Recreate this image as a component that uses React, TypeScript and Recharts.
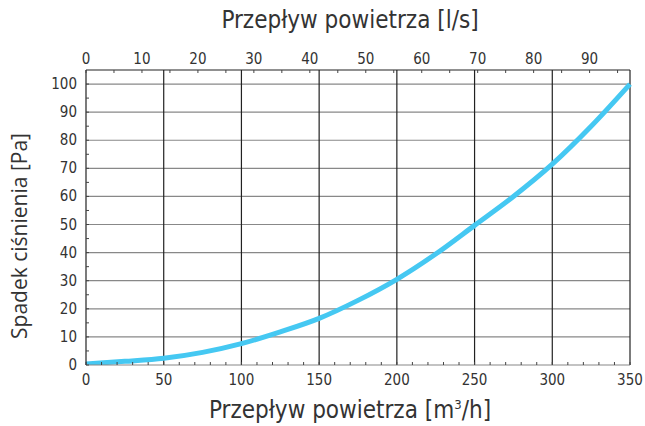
import { LineChart, Line, XAxis, YAxis, CartesianGrid } from 'recharts'

// air flow [m3/h] and pressure drop [Pa]
const flowM3h = [0, 25, 50, 75, 100, 125, 150, 175, 200, 225, 250, 275, 300, 325, 350]
const pressurePa = [0.4, 1.3, 2.4, 4.5, 7.6, 11.8, 16.6, 23, 30.5, 39.5, 49.7, 60, 71.5, 85, 100]

const bottomTicks = [0, 10, 20, 30, 40, 50, 60, 70, 80, 90, 100, 110, 120, 130, 140, 150, 160, 170, 180, 190, 200, 210, 220, 230, 240, 250, 260, 270, 280, 290, 300, 310, 320, 330, 340, 350]
const bottomLabels = [0, 50, 100, 150, 200, 250, 300, 350]
const topTicks = [0, 5, 10, 15, 20, 25, 30, 35, 40, 45, 50, 55, 60, 65, 70, 75, 80, 85, 90, 95]
const topLabels = [0, 10, 20, 30, 40, 50, 60, 70, 80, 90]
const leftTicks = [0, 5, 10, 15, 20, 25, 30, 35, 40, 45, 50, 55, 60, 65, 70, 75, 80, 85, 90, 95, 100]
const leftLabels = [0, 10, 20, 30, 40, 50, 60, 70, 80, 90, 100]
const gridFlow = [50, 100, 150, 200, 250, 300, 350]
const gridPressure = [10, 20, 30, 40, 50, 60, 70, 80, 90, 100]

const M3H_PER_LS = 3.6

const chartData = flowM3h.map((q, i) => ({ q, ls: q / M3H_PER_LS, pa: pressurePa[i] }))

const TICK_FONT = "'DejaVu Sans Condensed', 'Liberation Sans Narrow', Roboto, sans-serif"
const TEXT_COLOR = '#333'

function BottomTick(props: any) {
  const { x, y, payload } = props
  const v = payload.value
  return (
    <g>
      <line x1={x} y1={y} x2={x} y2={y - 3} stroke="#444" strokeWidth={1} />
      {bottomLabels.includes(v) && (
        <text x={x} y={y + 20} textAnchor="middle" fontSize={15} fill={TEXT_COLOR} fontFamily={TICK_FONT}>
          {v}
        </text>
      )}
    </g>
  )
}

function TopTick(props: any) {
  const { x, y, payload } = props
  const v = payload.value
  return (
    <g>
      <line x1={x} y1={y} x2={x} y2={y + 3} stroke="#444" strokeWidth={1} />
      {topLabels.includes(v) && (
        <text x={x} y={y - 6} textAnchor="middle" fontSize={15} fill={TEXT_COLOR} fontFamily={TICK_FONT}>
          {v}
        </text>
      )}
    </g>
  )
}

function LeftTick(props: any) {
  const { x, y, payload } = props
  const v = payload.value
  return (
    <g>
      <line x1={x} y1={y} x2={x + 3} y2={y} stroke="#444" strokeWidth={1} />
      {leftLabels.includes(v) && (
        <text x={x - 9} y={y + 5} textAnchor="end" fontSize={15} fill={TEXT_COLOR} fontFamily={TICK_FONT}>
          {v}
        </text>
      )}
    </g>
  )
}

export default function App() {
  return (
    <div style={{ position: 'absolute', left: 0, top: 0, width: 645, height: 426, background: '#fff' }}>
      <LineChart
        width={645}
        height={426}
        data={chartData}
        margin={{ top: 40, right: 15, bottom: 31, left: 46 }}
      >
        <CartesianGrid
          xAxisId="bottom"
          horizontal={true}
          vertical={false}
          horizontalValues={gridPressure}
          stroke="#888"
          strokeWidth={1.2}
        />
        <CartesianGrid
          xAxisId="bottom"
          horizontal={false}
          vertical={true}
          verticalValues={gridFlow}
          stroke="#222"
          strokeWidth={1.2}
        />
        <XAxis
          xAxisId="bottom"
          dataKey="q"
          type="number"
          orientation="bottom"
          domain={[0, 350]}
          ticks={bottomTicks}
          interval={0}
          height={30}
          tickSize={0}
          tickMargin={0}
          tickLine={false}
          axisLine={{ stroke: '#888', strokeWidth: 1.2 }}
          tick={<BottomTick />}
        />
        <XAxis
          xAxisId="top"
          dataKey="ls"
          type="number"
          orientation="top"
          domain={[0, 350 / M3H_PER_LS]}
          ticks={topTicks}
          interval={0}
          height={30}
          tickSize={0}
          tickMargin={0}
          tickLine={false}
          axisLine={{ stroke: '#222', strokeWidth: 1.2 }}
          tick={<TopTick />}
          allowDataOverflow
        />
        <YAxis
          type="number"
          domain={[0, 105]}
          ticks={leftTicks}
          interval={0}
          width={40}
          tickSize={0}
          tickMargin={0}
          tickLine={false}
          axisLine={{ stroke: '#222', strokeWidth: 1.2 }}
          tick={<LeftTick />}
          allowDataOverflow
        />
        <Line
          xAxisId="top"
          type="monotone"
          dataKey="pa"
          stroke="none"
          dot={false}
          activeDot={false}
          isAnimationActive={false}
        />
        <Line
          xAxisId="bottom"
          type="monotone"
          dataKey="pa"
          stroke="#45c8f2"
          strokeWidth={5}
          dot={false}
          activeDot={false}
          isAnimationActive={false}
        />
      </LineChart>
      <div
        style={{
          position: 'absolute',
          left: 0,
          top: 6,
          width: 700,
          textAlign: 'center',
          fontFamily: TICK_FONT,
          fontSize: 24,
          color: TEXT_COLOR,
          whiteSpace: 'nowrap',
        }}
      >
        Przepływ powietrza [l/s]
      </div>
      <div
        style={{
          position: 'absolute',
          left: 0,
          top: 396,
          width: 700,
          textAlign: 'center',
          fontFamily: TICK_FONT,
          fontSize: 24,
          color: TEXT_COLOR,
          whiteSpace: 'nowrap',
        }}
      >
        Przepływ powietrza [m<sup style={{ fontSize: 13 }}>3</sup>/h]
      </div>
      <div
        style={{
          position: 'absolute',
          left: 19,
          top: 236,
          transform: 'translate(-50%, -50%) rotate(-90deg)',
          fontFamily: "'Open Sans', 'Noto Sans', sans-serif",
          fontSize: 21,
          color: TEXT_COLOR,
          whiteSpace: 'nowrap',
        }}
      >
        Spadek ciśnienia [Pa]
      </div>
    </div>
  )
}
